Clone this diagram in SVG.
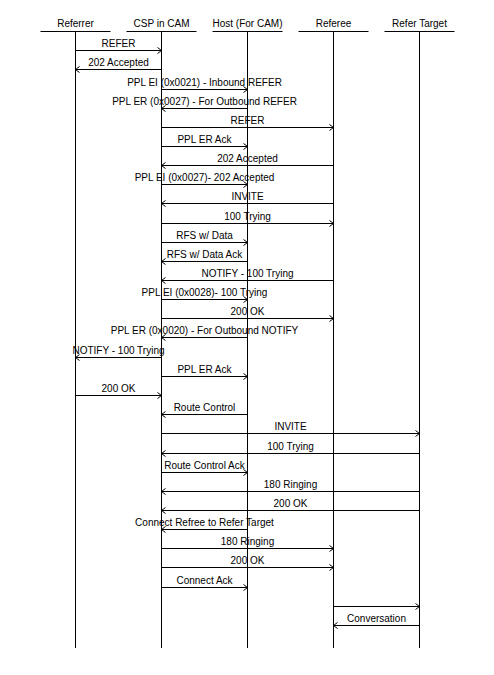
<svg xmlns="http://www.w3.org/2000/svg" width="494" height="675" viewBox="0 0 494 675">
<style>
text{font-family:"Liberation Sans",Arial,sans-serif;font-size:10px;fill:#000;text-anchor:middle}
.ln{stroke:#000;stroke-width:1;fill:none}
.msg{stroke:#000;stroke-width:1;fill:none;marker-end:url(#ah)}
</style>
<defs>
<marker id="ah" markerUnits="userSpaceOnUse" markerWidth="8" markerHeight="8" viewBox="-5 -4 6 8" refX="0" refY="0" orient="auto">
<path d="M-4,-3 L0,0 L-4,3" fill="none" stroke="#000" stroke-width="1"/>
</marker>
</defs>
<rect width="494" height="675" fill="#fff"/>
<g id="referrer"><text x="75.5" y="27">Referrer</text><line class="ln" x1="40.5" y1="31.5" x2="110.5" y2="31.5"/><line class="ln" x1="75.5" y1="31.5" x2="75.5" y2="648"/></g>
<g id="csp"><text x="161.5" y="27">CSP in CAM</text><line class="ln" x1="126.5" y1="31.5" x2="196.5" y2="31.5"/><line class="ln" x1="161.5" y1="31.5" x2="161.5" y2="648"/></g>
<g id="host"><text x="247.5" y="27">Host (For CAM)</text><line class="ln" x1="212.5" y1="31.5" x2="282.5" y2="31.5"/><line class="ln" x1="247.5" y1="31.5" x2="247.5" y2="648"/></g>
<g id="referee"><text x="333.5" y="27">Referee</text><line class="ln" x1="298.5" y1="31.5" x2="368.5" y2="31.5"/><line class="ln" x1="333.5" y1="31.5" x2="333.5" y2="648"/></g>
<g id="refer-target"><text x="419.5" y="27">Refer Target</text><line class="ln" x1="384.5" y1="31.5" x2="454.5" y2="31.5"/><line class="ln" x1="419.5" y1="31.5" x2="419.5" y2="648"/></g>
<g id="connectors">
<line class="msg" x1="75.5" y1="50.5" x2="161.5" y2="50.5"/><text x="118.5" y="47">REFER</text>
<line class="msg" x1="161.5" y1="69.5" x2="75.5" y2="69.5"/><text x="118.5" y="66">202 Accepted</text>
<line class="msg" x1="161.5" y1="89.5" x2="247.5" y2="89.5"/><text x="204.5" y="86">PPL EI (0x0021) - Inbound REFER</text>
<line class="msg" x1="247.5" y1="108.5" x2="161.5" y2="108.5"/><text x="204.5" y="105">PPL ER (0x0027) - For Outbound REFER</text>
<line class="msg" x1="161.5" y1="127.5" x2="333.5" y2="127.5"/><text x="247.5" y="124">REFER</text>
<line class="msg" x1="161.5" y1="146.5" x2="247.5" y2="146.5"/><text x="204.5" y="143">PPL ER Ack</text>
<line class="msg" x1="333.5" y1="165.5" x2="161.5" y2="165.5"/><text x="247.5" y="162">202 Accepted</text>
<line class="msg" x1="161.5" y1="184.5" x2="247.5" y2="184.5"/><text x="204.5" y="181">PPL EI (0x0027)- 202 Accepted</text>
<line class="msg" x1="333.5" y1="203.5" x2="161.5" y2="203.5"/><text x="247.5" y="200">INVITE</text>
<line class="msg" x1="161.5" y1="223.5" x2="333.5" y2="223.5"/><text x="247.5" y="220">100 Trying</text>
<line class="msg" x1="161.5" y1="242.5" x2="247.5" y2="242.5"/><text x="204.5" y="239">RFS w/ Data</text>
<line class="msg" x1="247.5" y1="261.5" x2="161.5" y2="261.5"/><text x="204.5" y="258">RFS w/ Data Ack</text>
<line class="msg" x1="333.5" y1="280.5" x2="161.5" y2="280.5"/><text x="247.5" y="277">NOTIFY - 100 Trying</text>
<line class="msg" x1="161.5" y1="299.5" x2="247.5" y2="299.5"/><text x="204.5" y="296">PPL EI (0x0028)- 100 Trying</text>
<line class="msg" x1="161.5" y1="318.5" x2="333.5" y2="318.5"/><text x="247.5" y="315">200 OK</text>
<line class="msg" x1="247.5" y1="337.5" x2="161.5" y2="337.5"/><text x="204.5" y="334">PPL ER (0x0020) - For Outbound NOTIFY</text>
<line class="msg" x1="161.5" y1="357.5" x2="75.5" y2="357.5"/><text x="118.5" y="354">NOTIFY - 100 Trying</text>
<line class="msg" x1="161.5" y1="376.5" x2="247.5" y2="376.5"/><text x="204.5" y="373">PPL ER Ack</text>
<line class="msg" x1="75.5" y1="395.5" x2="161.5" y2="395.5"/><text x="118.5" y="392">200 OK</text>
<line class="msg" x1="247.5" y1="414.5" x2="161.5" y2="414.5"/><text x="204.5" y="411">Route Control</text>
<line class="msg" x1="161.5" y1="433.5" x2="419.5" y2="433.5"/><text x="290.5" y="430">INVITE</text>
<line class="msg" x1="419.5" y1="453.5" x2="161.5" y2="453.5"/><text x="290.5" y="450">100 Trying</text>
<line class="msg" x1="161.5" y1="472.5" x2="247.5" y2="472.5"/><text x="204.5" y="469">Route Control Ack</text>
<line class="msg" x1="419.5" y1="491.5" x2="161.5" y2="491.5"/><text x="290.5" y="488">180 Ringing</text>
<line class="msg" x1="419.5" y1="510.5" x2="161.5" y2="510.5"/><text x="290.5" y="507">200 OK</text>
<line class="msg" x1="247.5" y1="529.5" x2="161.5" y2="529.5"/><text x="204.5" y="526">Connect Refree to Refer Target</text>
<line class="msg" x1="161.5" y1="548.5" x2="333.5" y2="548.5"/><text x="247.5" y="545">180 Ringing</text>
<line class="msg" x1="161.5" y1="567.5" x2="333.5" y2="567.5"/><text x="247.5" y="564">200 OK</text>
<line class="msg" x1="161.5" y1="587.5" x2="247.5" y2="587.5"/><text x="204.5" y="584">Connect Ack</text>
<line class="msg" x1="333.5" y1="606.5" x2="419.5" y2="606.5"/>
<line class="msg" x1="419.5" y1="625.5" x2="333.5" y2="625.5"/><text x="376.5" y="622">Conversation</text>
</g>
</svg>
